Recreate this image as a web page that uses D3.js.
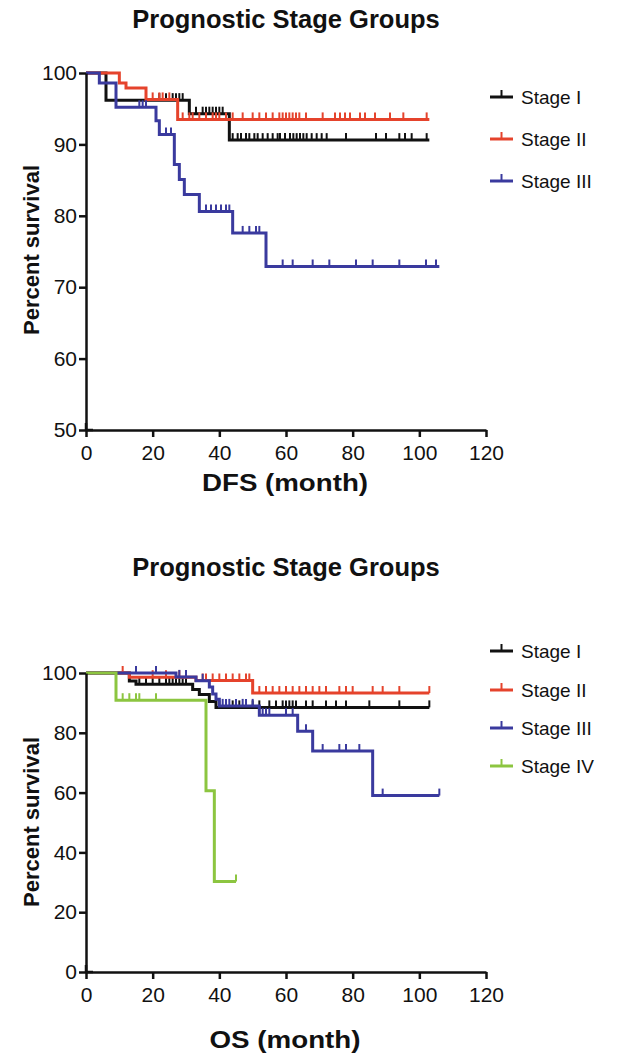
<!DOCTYPE html>
<html><head><meta charset="utf-8">
<script src="https://cdn.jsdelivr.net/npm/d3@7"></script>
<style>body{margin:0;background:#fff}svg{display:block}</style>
</head><body><svg id="c" width="629" height="1060"></svg>
<script>
// ---------- data ----------
const monthTicks = [0, 20, 40, 60, 80, 100, 120];
const dfsTicks = [50, 60, 70, 80, 90, 100];
const osTicks = [0, 20, 40, 60, 80, 100];
const stageNames = ["Stage I", "Stage II", "Stage III", "Stage IV"];
const stageColors = ["#111111", "#e5432c", "#3a3a9e", "#8cc540"];
const chartTitle = "Prognostic Stage Groups";

// DFS steps: [month, percent survival]
const dfsStageI = [[0,100],[6,96.2],[31,94.3],[43,90.6]];
const dfsStageIEnd = 103;
const dfsStageICens = [22,24,26,27,28,29,33,35,36,37,38,39,40,41,44,45.5,46.5,48,49,50.5,51.5,53,54.5,56,57.5,58.2,59.7,61.2,62.2,63.2,64.2,65.2,66.2,67.7,69.2,70.7,72.2,78,87,90,94,95.7,97.7,102.2];
const dfsStageII = [[0,100],[10,98.6],[12,97.9],[18,96.3],[27.5,93.5]];
const dfsStageIIEnd = 103;
const dfsStageIICens = [20,22,23,25,29,31,32,34,36,38,39,40,42,44,47,50,52,54,56,58,59,60,61,62,63,64,66,71,74.7,76.2,77.7,79.2,82.2,83.7,86.7,91.2,95.2,102.2];
const dfsStageIII = [[0,100],[4,98.6],[9,95.2],[21,93.3],[22,91.4],[26.5,87.2],[28,85.1],[29.5,83.0],[34,80.6],[44,77.6],[54,72.9]];
const dfsStageIIIEnd = 106;
const dfsStageIIICens = [16,17,18,24,25.5,36,37.5,39,40.5,42,43,47,49,51,52,59,62,68,73,81,86,94,102,105];

// OS steps
const osStageI = [[0,100],[13,97.3],[15,96.2],[32,94.5],[34,92.8],[37,90.5],[39,88.5]];
const osStageIEnd = 103;
const osStageICens = [16,18,20,22,24,25,26,27,28,29,30,40,42,44,46,48,50,52,55,57,59,60,61,62,63,66,68,72,75,78,85,94,103];
const osStageII = [[0,100],[13,98.6],[33,97.5],[50,93.3]];
const osStageIIEnd = 103;
const osStageIICens = [11,20,24,28,30,35,36,38,40,42,44,46,48,49,52,54,56,58,60,62,64,66,68,70,72,76,78,80,86,89,94,103];
const osStageIII = [[0,100],[27,98.7],[33,97.4],[37,95.3],[38,93.0],[39,91.2],[40,89.0],[52,85.9],[63.5,80.5],[68,73.9],[86,59.0]];
const osStageIIIEnd = 106;
const osStageIIICens = [15,21,28,30,35,41,42,43,45,47,48,50,53,54,55,60,62,66,71,76,78,82,89,106];
const osStageIV = [[0,100],[9,90.9],[36,60.6],[38.5,30.3]];
const osStageIVEnd = 45;
const osStageIVCens = [11,13,15,16,21,45];

// ---------- drawing ----------
const svg = d3.select("#c");
const FONT = "'Liberation Sans', Arial, sans-serif";

function stepVal(steps, m) {
  let v = steps[0][1];
  for (const s of steps) if (s[0] <= m) v = s[1];
  return v;
}

function drawChart(cfg) {
  const g = svg.append("g");
  const x = d3.scaleLinear().domain([0, 120]).range([cfg.x0, cfg.x1]);
  const y = d3.scaleLinear().domain(cfg.yDomain).range([cfg.yBottom, cfg.yTop]);

  // title
  g.append("text").attr("x", cfg.titleX).attr("y", cfg.titleY)
    .attr("text-anchor", "middle").attr("font-family", FONT)
    .attr("font-weight", "bold").attr("font-size", 25.5).attr("fill", "#111")
    .text(chartTitle);

  // series
  const line = d3.line().x(d => x(d[0])).y(d => y(d[1])).curve(d3.curveStepAfter);
  cfg.series.forEach((s, i) => {
    const pts = s.steps.concat([[s.end, s.steps[s.steps.length - 1][1]]]);
    g.append("path").attr("d", line(pts)).attr("fill", "none")
      .attr("stroke", s.color).attr("stroke-width", 3);
    g.selectAll(null).data(s.cens).enter().append("line")
      .attr("x1", d => x(d)).attr("x2", d => x(d))
      .attr("y1", d => y(stepVal(s.steps, d)))
      .attr("y2", d => y(stepVal(s.steps, d)) - 7)
      .attr("stroke", s.color).attr("stroke-width", 2);
  });

  // axes
  const yAxis = g.append("g").attr("transform", `translate(${cfg.x0},0)`)
    .call(d3.axisLeft(y).tickValues(cfg.yTicks).tickSize(7).tickSizeOuter(0).tickPadding(2));
  const xAxis = g.append("g").attr("transform", `translate(0,${cfg.yBottom})`)
    .call(d3.axisBottom(x).tickValues(monthTicks).tickSize(7).tickSizeOuter(0).tickPadding(8));
  [yAxis, xAxis].forEach(a => {
    a.select(".domain").attr("stroke", "#111").attr("stroke-width", 2.5);
    a.selectAll(".tick line").attr("stroke", "#111").attr("stroke-width", 2.5);
    a.selectAll(".tick text").attr("font-family", FONT).attr("font-size", 21)
      .attr("fill", "#111");
  });
  // origin cross
  g.append("line").attr("x1", cfg.x0).attr("x2", cfg.x0)
    .attr("y1", cfg.yBottom).attr("y2", cfg.yBottom - 7)
    .attr("stroke", "#111").attr("stroke-width", 2.5);
  g.append("line").attr("x1", cfg.x0).attr("x2", cfg.x0 + 7)
    .attr("y1", cfg.yBottom).attr("y2", cfg.yBottom)
    .attr("stroke", "#111").attr("stroke-width", 2.5);

  // axis titles
  g.append("text").attr("transform", `translate(${cfg.yLabelX},${cfg.yLabelY}) rotate(-90)`)
    .attr("text-anchor", "middle").attr("font-family", FONT).attr("font-weight", "bold")
    .attr("font-size", 22).attr("fill", "#111").text("Percent survival");
  g.append("text").attr("x", (cfg.x0 + cfg.x1) / 2 - 1).attr("y", cfg.xLabelY)
    .attr("text-anchor", "middle").attr("font-family", FONT).attr("font-weight", "bold")
    .attr("font-size", 24).attr("fill", "#111")
    .attr("textLength", cfg.xLabelLen).attr("lengthAdjust", "spacingAndGlyphs")
    .text(cfg.xLabel);

  // legend
  cfg.series.forEach((s, i) => {
    const ly = cfg.legendY[i];
    g.append("line").attr("x1", cfg.legendX).attr("x2", cfg.legendX + 23)
      .attr("y1", ly).attr("y2", ly).attr("stroke", s.color).attr("stroke-width", 3);
    g.append("line").attr("x1", cfg.legendX + 11.5).attr("x2", cfg.legendX + 11.5)
      .attr("y1", ly).attr("y2", ly - 7).attr("stroke", s.color).attr("stroke-width", 2);
    g.append("text").attr("x", cfg.legendX + 31).attr("y", ly + 7)
      .attr("font-family", FONT).attr("font-size", 19).attr("fill", "#111").text(s.name);
  });
}

drawChart({
  x0: 86, x1: 486, yTop: 73, yBottom: 430, yDomain: [50, 100], yTicks: dfsTicks,
  titleX: 286, titleY: 28, yLabelX: 39, yLabelY: 250,
  xLabel: "DFS (month)", xLabelY: 491, xLabelLen: 166,
  legendX: 490, legendY: [97, 139, 181],
  series: [
    {name: stageNames[0], color: stageColors[0], steps: dfsStageI, end: dfsStageIEnd, cens: dfsStageICens},
    {name: stageNames[1], color: stageColors[1], steps: dfsStageII, end: dfsStageIIEnd, cens: dfsStageIICens},
    {name: stageNames[2], color: stageColors[2], steps: dfsStageIII, end: dfsStageIIIEnd, cens: dfsStageIIICens}
  ]
});

drawChart({
  x0: 86, x1: 486, yTop: 673, yBottom: 972, yDomain: [0, 100], yTicks: osTicks,
  titleX: 286, titleY: 576, yLabelX: 39, yLabelY: 822,
  xLabel: "OS (month)", xLabelY: 1048, xLabelLen: 151,
  legendX: 490, legendY: [651, 690, 728, 766],
  series: [
    {name: stageNames[0], color: stageColors[0], steps: osStageI, end: osStageIEnd, cens: osStageICens},
    {name: stageNames[1], color: stageColors[1], steps: osStageII, end: osStageIIEnd, cens: osStageIICens},
    {name: stageNames[2], color: stageColors[2], steps: osStageIII, end: osStageIIIEnd, cens: osStageIIICens},
    {name: stageNames[3], color: stageColors[3], steps: osStageIV, end: osStageIVEnd, cens: osStageIVCens}
  ]
});
</script></body></html>
